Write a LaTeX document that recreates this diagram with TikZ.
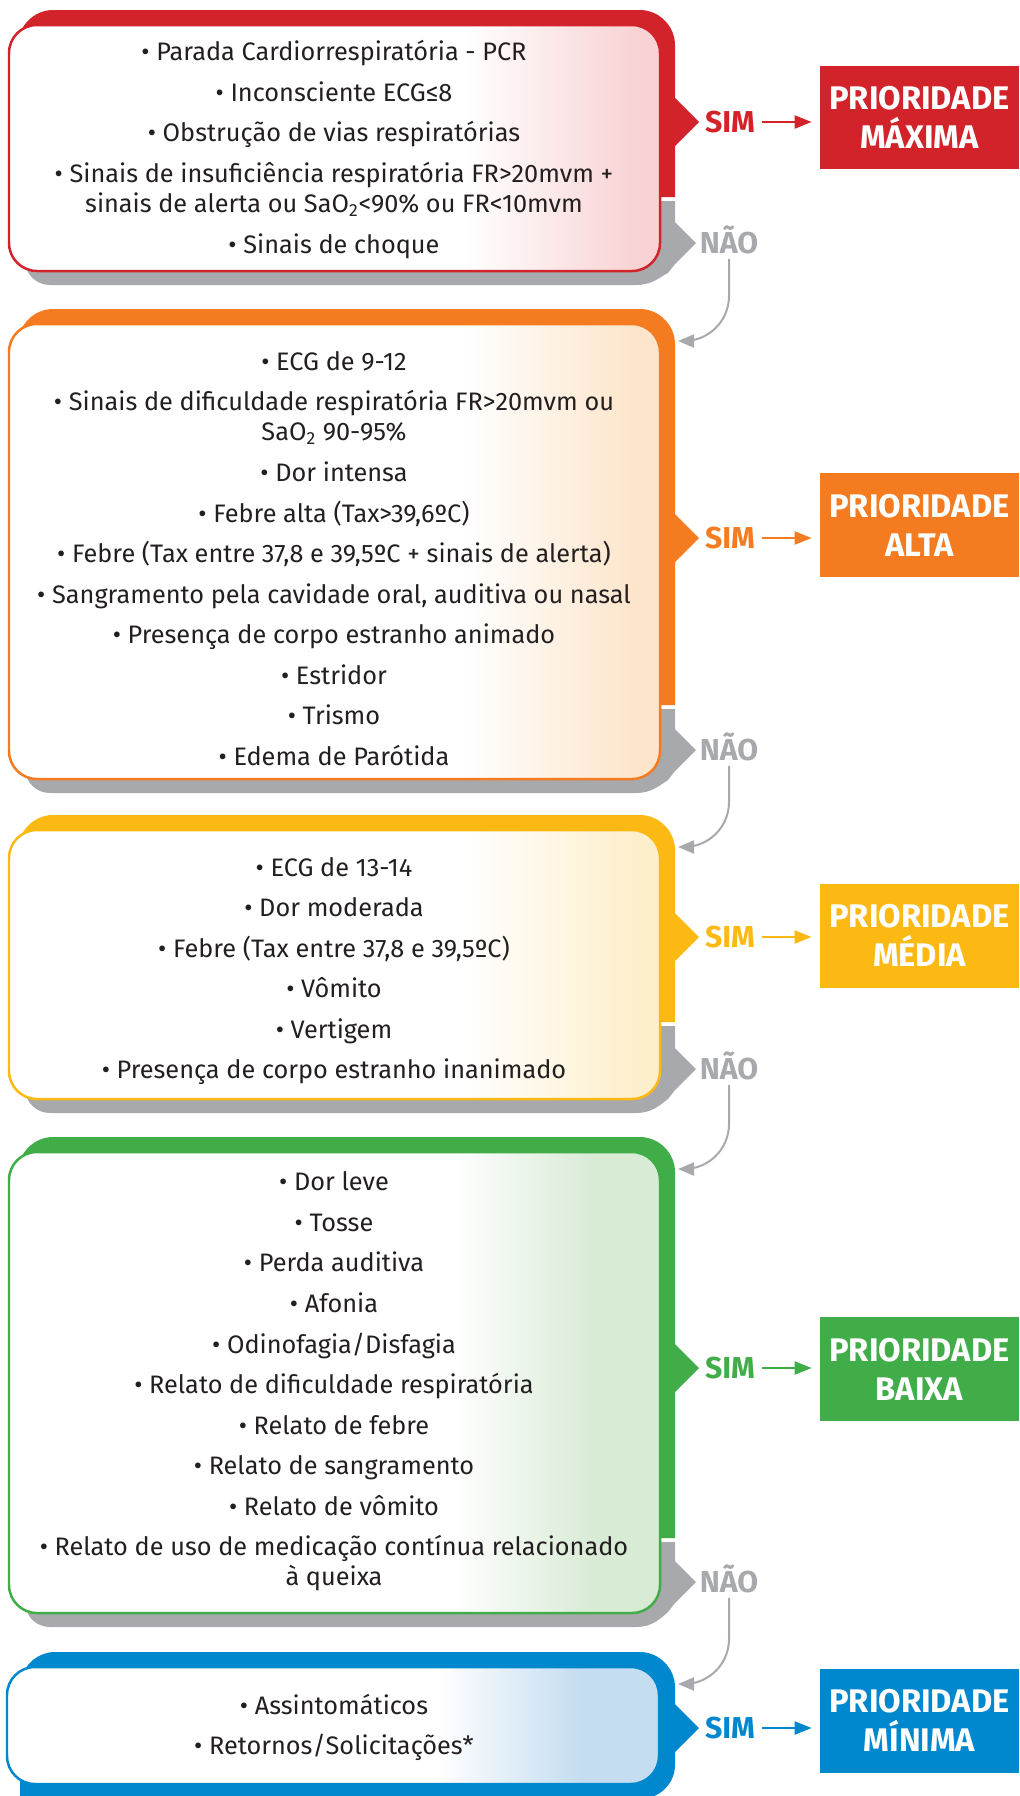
\documentclass[tikz,border=0pt]{standalone}
\usepackage{fontspec}
\setmainfont{Fira Sans}
\usetikzlibrary{arrows.meta}

\definecolor{c1}{HTML}{D2232A} \definecolor{c2}{HTML}{F47B20} \definecolor{c3}{HTML}{FDB913}
\definecolor{c4}{HTML}{41AD49} \definecolor{c5}{HTML}{0088CE}
\definecolor{t1}{HTML}{F9D3D4} \definecolor{t2}{HTML}{FDE5CB} \definecolor{t3}{HTML}{FEEFCC}
\definecolor{t4}{HTML}{D8EBD5} \definecolor{t5}{HTML}{C4DDF1}
\pgfdeclarehorizontalshading{fade1}{100bp}{color(0bp)=(white); color(60bp)=(white); color(73bp)=(t1); color(100bp)=(t1)}
\pgfdeclarehorizontalshading{fade2}{100bp}{color(0bp)=(white); color(60bp)=(white); color(73bp)=(t2); color(100bp)=(t2)}
\pgfdeclarehorizontalshading{fade3}{100bp}{color(0bp)=(white); color(60bp)=(white); color(73bp)=(t3); color(100bp)=(t3)}
\pgfdeclarehorizontalshading{fade4}{100bp}{color(0bp)=(white); color(59bp)=(white); color(70bp)=(t4); color(100bp)=(t4)}
\pgfdeclarehorizontalshading{fade5}{100bp}{color(0bp)=(white); color(58bp)=(white); color(69bp)=(t5); color(100bp)=(t5)}

\begin{document}
\begin{tikzpicture}[x=0.02cm, y=-0.02cm, every node/.style={inner sep=0pt}]
  \definecolor{cinza}{HTML}{A7A9AC} \definecolor{texto}{HTML}{231F20}
  \tikzstyle{lista}=[align=center, text=texto, font=\fontsize{14.4}{17.07}\selectfont]
  \tikzstyle{caixa}=[line width=0.05cm, rounded corners=0.56cm]
  \tikzstyle{rotulo}=[font=\fontsize{17.2}{19}\selectfont\bfseries]
  \tikzstyle{prio}=[minimum width=3.98cm, minimum height=2.08cm, align=center, text=white, font=\fontsize{18.6}{22.2}\selectfont\bfseries]
  \tikzstyle{seta}=[-{Triangle[length=0.34cm,width=0.26cm]}, line width=0.04cm, shorten <=0.14cm, shorten >=0.16cm]
  \tikzstyle{setanao}=[-{Triangle[length=0.32cm,width=0.26cm]}, cinza, line width=0.04cm, rounded corners=0.9cm, shorten <=0.1cm]
  \useasboundingbox (0,0) rectangle (1019,1796);

  \foreach \i/\ytopo/\ycor/\ysim/\ynao/\ycaixa in {1/10/197/122/243/271, 2/309/705/538/750/779, 3/815/1022/937/1069/1099, 4/1137/1538/1368/1582/1613} {
    % painel colorido
    \fill[c\i] (18,\ycor) -- (18,\ytopo+35) .. controls (18,\ytopo+16) and (34,\ytopo) .. (53,\ytopo) -- (640,\ytopo) .. controls (659,\ytopo) and (675,\ytopo+16) .. (675,\ytopo+35) -- (675,\ysim-24) -- (699,\ysim) -- (675,\ysim+24) -- (675,\ycor) -- cycle;
    % sombra
    \fill[cinza] (25,\ycor+4) -- (675,\ycor+4) -- (675,\ynao-21) -- (696,\ynao) -- (675,\ynao+21) -- (668,\ynao+30) .. controls (660,\ycaixa+6) and (652,\ycaixa+14) .. (636,\ycaixa+14) -- (50,\ycaixa+14) .. controls (36,\ycaixa+14) and (25,\ycaixa+3) .. (25,\ycaixa-11) -- cycle;
    \shadedraw[caixa, draw=c\i, shading=fade\i] (9,\ytopo+15) rectangle (660,\ycaixa);
  }
  \fill[c5] (20,1799) -- (20,1687) .. controls (20,1668) and (36,1652) .. (55,1652) -- (640,1652) .. controls (659,1652) and (675,1668) .. (675,1687) -- (675,1704) -- (699,1728) -- (675,1752) -- (675,1765) .. controls (675,1784) and (659,1799) .. (640,1799) -- cycle;
  \shadedraw[caixa, draw=c5, shading=fade5] (7,1667) rectangle (659,1784);

  \node[lista] (lista1) at (334,149.5) {• Parada Cardiorrespiratória - PCR\\[6pt]
    • Inconsciente ECG≤8\\[6pt]
    • Obstrução de vias respiratórias\\[6pt]
    • Sinais de insuficiência respiratória FR>20mvm +\\
    sinais de alerta ou SaO\textsubscript{2}<90\% ou FR<10mvm\\[6pt]
    • Sinais de choque};
  \node[lista] (lista2) at (334,558.5) {• ECG de 9-12\\[6pt]
    • Sinais de dificuldade respiratória FR>20mvm ou\\
    SaO\textsubscript{2} 90-95\%\\[6pt]
    • Dor intensa\\[6pt]
    • Febre alta (Tax>39,6ºC)\\[6pt]
    • Febre (Tax entre 37,8 e 39,5ºC + sinais de alerta)\\[6pt]
    • Sangramento pela cavidade oral, auditiva ou nasal\\[6pt]
    • Presença de corpo estranho animado\\[6pt]
    • Estridor\\[6pt]
    • Trismo\\[6pt]
    • Edema de Parótida};
  \node[lista] (lista3) at (334,971) {• ECG de 13-14\\[6pt]
    • Dor moderada\\[6pt]
    • Febre (Tax entre 37,8 e 39,5ºC)\\[6pt]
    • Vômito\\[6pt]
    • Vertigem\\[6pt]
    • Presença de corpo estranho inanimado};
  \node[lista] (lista4) at (334,1381.5) {• Dor leve\\[6pt]
    • Tosse\\[6pt]
    • Perda auditiva\\[6pt]
    • Afonia\\[6pt]
    • Odinofagia/Disfagia\\[6pt]
    • Relato de dificuldade respiratória\\[6pt]
    • Relato de febre\\[6pt]
    • Relato de sangramento\\[6pt]
    • Relato de vômito\\[6pt]
    • Relato de uso de medicação contínua relacionado\\
    à queixa};
  \node[lista] (lista5) at (334,1727.5) {• Assintomáticos\\[6pt]
    • Retornos/Solicitações*};

  \foreach \i/\ysim/\yprio/\nivel in {1/122/117.5/MÁXIMA, 2/538/525/ALTA, 3/937/935.5/MÉDIA, 4/1368/1369/BAIXA, 5/1728/1720.5/MÍNIMA} {
    \node[rotulo, text=c\i] (sim\i) at (730,\ysim) {SIM};
    \node[prio, fill=c\i] (prio\i) at (919.5,\yprio) {PRIORIDADE\\\nivel};
    \draw[seta, c\i] (sim\i.east) -- (sim\i.east -| prio\i.west);
  }
  \foreach \i/\j/\ynao/\yentra in {1/2/243/341, 2/3/750/847, 3/4/1069/1169, 4/5/1582/1684} {
    \node[rotulo, text=cinza, anchor=base] (nao\i) at (729,\ynao+10) {NÃO};
    \coordinate (entra\j) at (678,\yentra);
    \draw[setanao] (nao\i.south) |- (entra\j);
  }
\end{tikzpicture}
\end{document}
